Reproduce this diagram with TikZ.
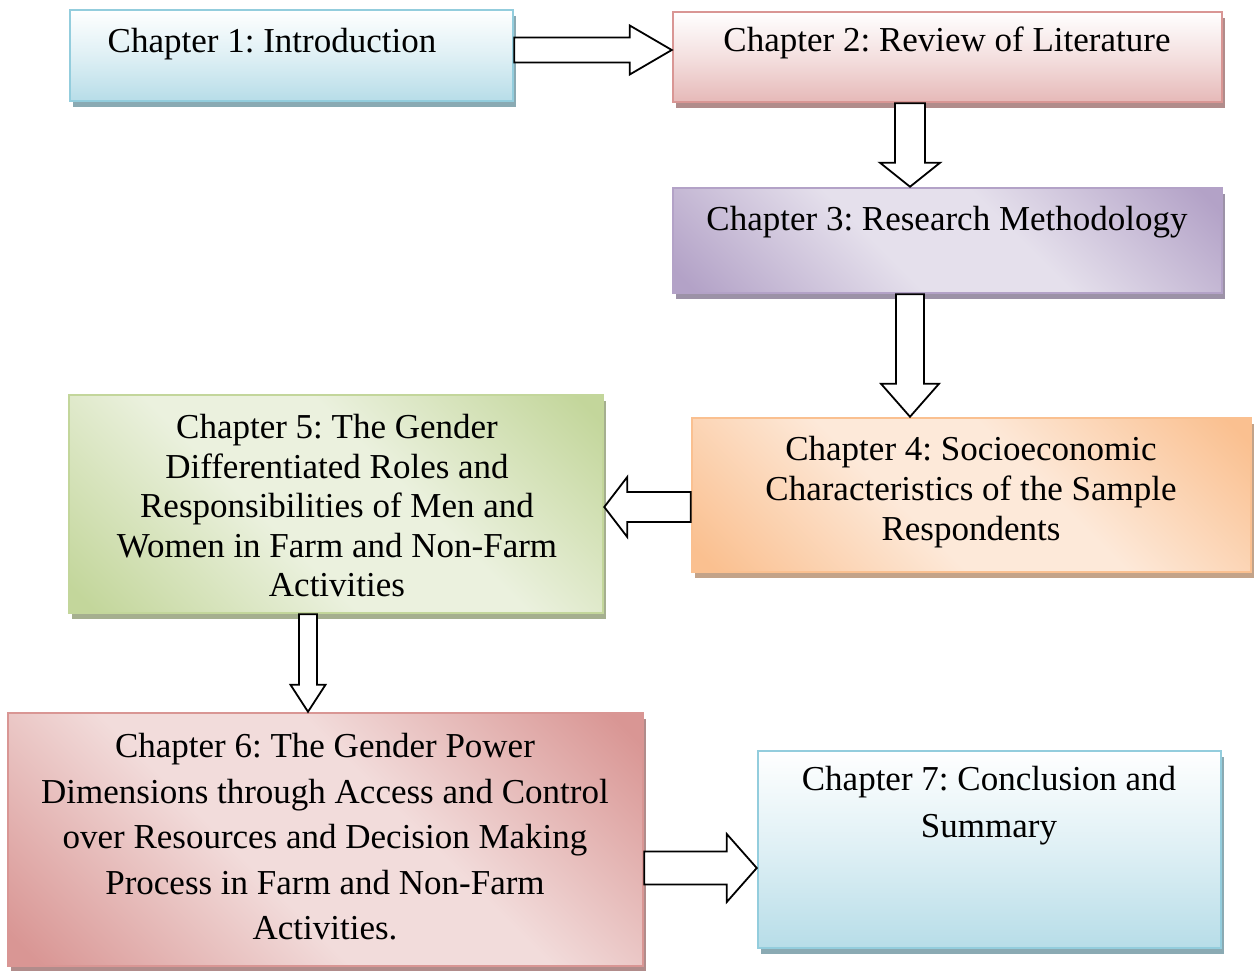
\documentclass[tikz,border=0pt]{standalone}
\usepackage{fontspec}
\setmainfont{Liberation Serif}
\usepackage{xcolor}
\usetikzlibrary{calc, positioning, shadows}
\frenchspacing

% box colours
\definecolor{bluedge}{HTML}{93CDDD}
\definecolor{bluefill}{HTML}{B7DDE8}
\definecolor{rosedge}{HTML}{D99694}
\definecolor{rosefill}{HTML}{E6B9B8}
\definecolor{purpdark}{HTML}{B3A2C7}
\definecolor{purplite}{HTML}{E5E0EC}
\definecolor{orngdark}{HTML}{FAC090}
\definecolor{ornglite}{HTML}{FDE9D9}
\definecolor{grndark}{HTML}{C3D69B}
\definecolor{grnlite}{HTML}{EBF1DE}
\definecolor{reddark}{HTML}{D99694}
\definecolor{redlite}{HTML}{F2DCDB}

\pgfdeclarehorizontalshading{purplediag}{100bp}{color(0bp)=(purpdark); color(17bp)=(purpdark); color(42bp)=(purplite); color(58bp)=(purplite); color(83bp)=(purpdark); color(100bp)=(purpdark)}
\pgfdeclarehorizontalshading{orangediag}{100bp}{color(0bp)=(orngdark); color(17bp)=(orngdark); color(42bp)=(ornglite); color(58bp)=(ornglite); color(83bp)=(orngdark); color(100bp)=(orngdark)}
\pgfdeclarehorizontalshading{greendiag}{100bp}{color(0bp)=(grndark); color(17bp)=(grndark); color(42bp)=(grnlite); color(58bp)=(grnlite); color(83bp)=(grndark); color(100bp)=(grndark)}
\pgfdeclarehorizontalshading{reddiag}{100bp}{color(0bp)=(reddark); color(17bp)=(reddark); color(42bp)=(redlite); color(58bp)=(redlite); color(83bp)=(reddark); color(100bp)=(reddark)}

\tikzset{
  chapbox/.style={rectangle, line width=2.5pt, inner sep=0pt},
  vgradbox/.style 2 args={chapbox, draw=#1, top color=white, bottom color=#2, middle color=#2!45!white,
    drop shadow={shadow xshift=3pt, shadow yshift=-6pt, fill=#1!55!gray, opacity=1}},
  dgradbox/.style 2 args={chapbox, draw=#1, shading=#2, shading angle=45,
    drop shadow={shadow xshift=3pt, shadow yshift=-6pt, fill=#1!55!gray, opacity=1}},
  chaptext/.style={align=center, inner sep=0pt, font=\fontsize{35}{40}\selectfont},
  % hollow block arrow: shaft half width, head half width, head length
  bigarrow/.style n args={3}{draw=black, fill=white, line width=1.8pt, line join=miter,
    to path={let \p1=(\tikztostart), \p2=(\tikztotarget),
      \n1={atan2(\y2-\y1,\x2-\x1)}, \n2={veclen(\x2-\x1,\y2-\y1)} in
      ($(\p1)+(\n1+90:#1)$) -- ++(\n1:\n2-#3) -- ++(\n1+90:#2-#1) -- (\p2)
      -- ($(\p2)+(\n1+180:#3)+(\n1-90:#2)$) -- ++(\n1+90:#2-#1)
      -- ($(\p1)+(\n1-90:#1)$) -- cycle}},
}

\begin{document}
\begin{tikzpicture}[x=1pt, y=-1pt]
  \useasboundingbox (0,0) rectangle (1258,970);

  % boxes
  \node[vgradbox={bluedge}{bluefill}, minimum width=443pt, minimum height=91pt] (c1) at (291.5,55.5) {};
  \node[vgradbox={rosedge}{rosefill}, minimum width=549pt, minimum height=90pt] (c2) at (947.5,57) {};
  \node[dgradbox={purpdark}{purplediag}, minimum width=549pt, minimum height=105pt] (c3) at (947.5,240.5) {};
  \node[dgradbox={orngdark}{orangediag}, minimum width=559pt, minimum height=154pt] (c4) at (971.5,495) {};
  \node[dgradbox={grndark}{greendiag}, minimum width=534pt, minimum height=218pt] (c5) at (336,504) {};
  \node[dgradbox={reddark}{reddiag}, minimum width=635pt, minimum height=253pt] (c6) at (325.5,839.5) {};
  \node[vgradbox={bluedge}{bluefill}, minimum width=463pt, minimum height=197pt] (c7) at (989.5,849.5) {};

  % texts
  \node[chaptext] (t1) at (272,44) {Chapter 1: Introduction};
  \node[chaptext] (t2) at (947,43) {Chapter 2: Review of Literature};
  \node[chaptext] (t3) at (947,222) {Chapter 3: Research Methodology};
  \node[chaptext] (t4) at (971,492) {Chapter 4: Socioeconomic\\ Characteristics of the Sample\\ Respondents};
  \node[chaptext, font=\fontsize{35}{39.5}\selectfont] (t5) at (337,506)
    {Chapter 5: The Gender\\ Differentiated Roles and\\ Responsibilities of Men and\\ Women in Farm and Non-Farm\\ Activities};
  \node[chaptext, font=\fontsize{35}{45.5}\selectfont] (t6) at (325,837)
    {Chapter 6: The Gender Power\\ Dimensions through Access and Control\\ over Resources and Decision Making\\ Process in Farm and Non-Farm\\ Activities.};
  \node[chaptext, font=\fontsize{35}{47}\selectfont] (t7) at (989,806) {Chapter 7: Conclusion and\\ Summary};

  % arrows
  \draw[bigarrow={12.5pt}{24.5pt}{42pt}] (c1.east |- 0,50) to (c2.west |- 0,50);
  \draw[bigarrow={15pt}{30pt}{24pt}] (c2.south -| 910,0) to (c3.north -| 910,0);
  \draw[bigarrow={14pt}{29pt}{33pt}] (c3.south -| 910,0) to (c4.north -| 910,0);
  \draw[bigarrow={15pt}{30pt}{23pt}] (c4.west |- 0,507) to (c5.east |- 0,507);
  \draw[bigarrow={9pt}{17.5pt}{27pt}] (c5.south -| 308,0) to (c6.north -| 308,0);
  \draw[bigarrow={16.5pt}{34pt}{30pt}] (c6.east |- 0,868) to (c7.west |- 0,868);
\end{tikzpicture}
\end{document}
